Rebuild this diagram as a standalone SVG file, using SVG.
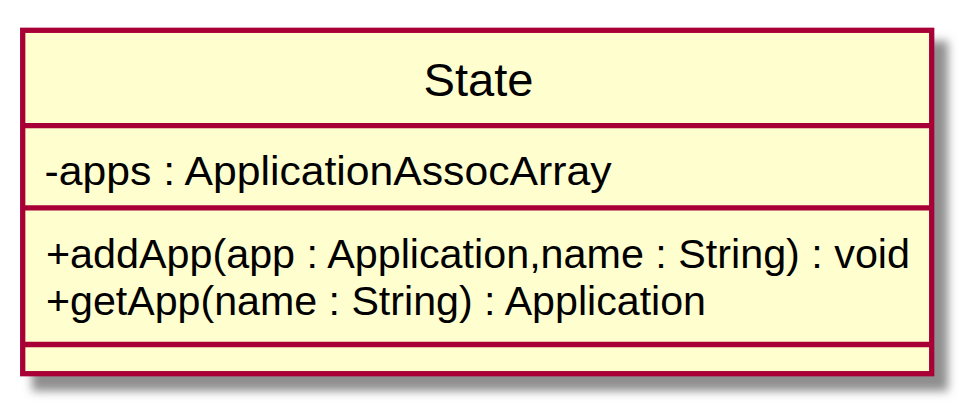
<svg xmlns="http://www.w3.org/2000/svg" width="969" height="412" viewBox="0 0 969 412">
<defs>
<filter id="shadow" x="-10%" y="-10%" width="120%" height="120%">
<feGaussianBlur stdDeviation="5"/>
</filter>
<style>
.box{fill:#FEFECE;stroke:#A80036;stroke-width:5.3}
.div{stroke:#A80036;stroke-width:5.3}
.t{font-family:"Liberation Sans",Arial,sans-serif;font-size:41px;fill:#000}
.title{font-family:"Liberation Sans",Arial,sans-serif;font-size:46px;fill:#000}
</style>
</defs>
<g id="State">
<rect x="32" y="41" width="916" height="350" fill="#8f8f8f" filter="url(#shadow)"/>
<rect class="box" x="22.7" y="30.3" width="909" height="343.4"/>
<text class="title" x="478.5" y="95.5" text-anchor="middle" textLength="110" lengthAdjust="spacingAndGlyphs">State</text>
<line class="div" x1="22.7" y1="125.7" x2="931.7" y2="125.7"/>
<text class="t" x="44.5" y="184.5" textLength="567" lengthAdjust="spacingAndGlyphs">-apps : ApplicationAssocArray</text>
<line class="div" x1="22.7" y1="207.8" x2="931.7" y2="207.8"/>
<text class="t" x="46" y="267.5" textLength="864" lengthAdjust="spacingAndGlyphs">+addApp(app : Application,name : String) : void</text>
<text class="t" x="46" y="314.5" textLength="660" lengthAdjust="spacingAndGlyphs">+getApp(name : String) : Application</text>
<line class="div" x1="22.7" y1="344.5" x2="931.7" y2="344.5"/>
</g>
</svg>
